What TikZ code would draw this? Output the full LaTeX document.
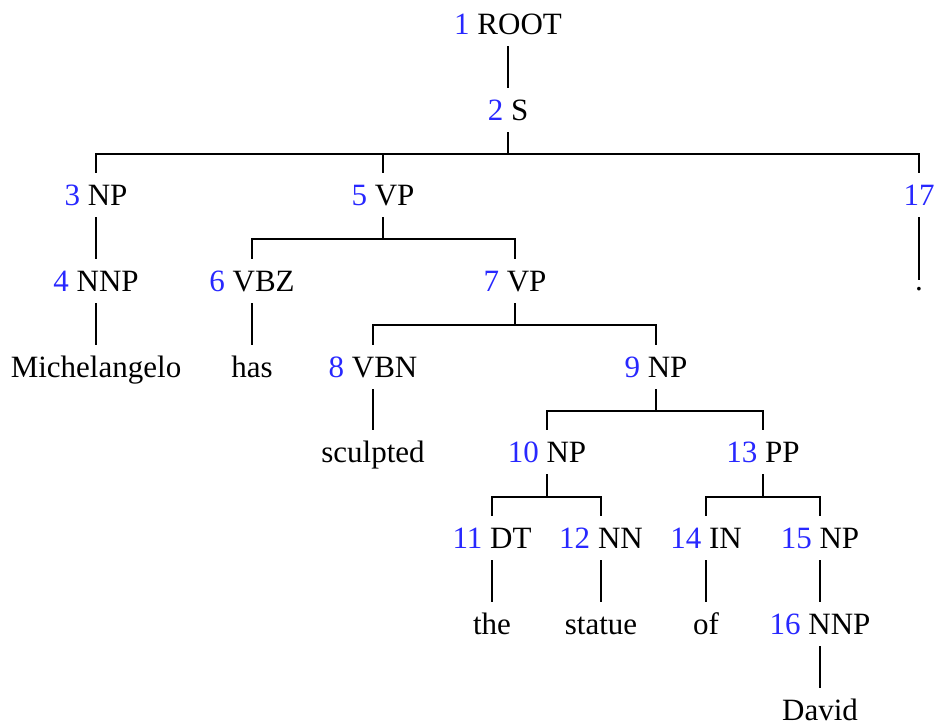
\documentclass[tikz,border=0pt]{standalone}
\usepackage{fontspec}
\setmainfont{Liberation Serif}
\usepackage{xcolor}
\usetikzlibrary{calc}
\usetikzlibrary{positioning}

\definecolor{idblue}{RGB}{40,40,255}
\newcommand{\nid}[1]{\textcolor{idblue}{#1}}
\tikzset{
  tag/.style={inner xsep=0pt, inner ysep=3.5pt, text height=12.5pt, text depth=2.5pt,
    font=\fontsize{15.5}{18}\selectfont},
  punct/.style={tag, text height=1.5pt},
  branch/.style={line width=0.8pt},
}

\begin{document}
\begin{tikzpicture}[x=0.5pt,y=-0.5pt]
       \useasboundingbox (0,0) rectangle (935,724);
       
       \node[tag] (n1) at (508,24) {\nid{1} ROOT};
       \node[tag] (n2) at (508,110) {\nid{2} S};
       
       \node[tag] (n3) at (96,195) {\nid{3} NP};
       \node[tag] (n4) at (96,281) {\nid{4} NNP};
       \node[tag] (w4) at (96,367) {Michelangelo};
       
       \node[tag] (n5) at (383,195) {\nid{5} VP};
       \node[tag] (n6) at (252,281) {\nid{6} VBZ};
       \node[tag] (w6) at (252,367) {has};
       \node[tag] (n7) at (515,281) {\nid{7} VP};
       \node[tag] (n8) at (373,367) {\nid{8} VBN};
       \node[tag] (w8) at (373,452) {sculpted};
       \node[tag] (n9) at (656,367) {\nid{9} NP};
       
       \node[tag] (n10) at (547,452) {\nid{10} NP};
       \node[tag] (n11) at (492,538) {\nid{11} DT};
       \node[tag] (w11) at (492,624) {the};
       \node[tag] (n12) at (601,538) {\nid{12} NN};
       \node[tag] (w12) at (601,624) {statue};
       
       \node[tag] (n13) at (763,452) {\nid{13} PP};
       \node[tag] (n14) at (706,538) {\nid{14} IN};
       \node[tag] (w14) at (706,624) {of};
       \node[tag] (n15) at (820,538) {\nid{15} NP};
       \node[tag] (n16) at (820,624) {\nid{16} NNP};
       \node[tag] (w16) at (820,710) {David};
       
       \node[tag] (n17) at (919,195) {\nid{17}};
       \node[punct, anchor=base] (w17) at (919,290) {.};
       
       \coordinate (b2) at (508,154);
       \coordinate (b5) at (383,239);
       \coordinate (b7) at (515,325);
       \coordinate (b9) at (656,411);
       \coordinate (b10) at (547,497);
       \coordinate (b13) at (763,497);
       
       \draw[branch] (n1.south) -- (n2.north);
       
       \draw[branch] (n2.south) -- (b2);
       \draw[branch] (n3.north) |- (b2);
       \draw[branch] (n5.north) |- (b2);
       \draw[branch] (n17.north) |- (b2);
       
       \draw[branch] (n3.south) -- (n4.north);
       \draw[branch] (n4.south) -- (w4.north);
       
       \draw[branch] (n5.south) -- (b5);
       \draw[branch] (n6.north) |- (b5);
       \draw[branch] (n7.north) |- (b5);
       \draw[branch] (n6.south) -- (w6.north);
       
       \draw[branch] (n7.south) -- (b7);
       \draw[branch] (n8.north) |- (b7);
       \draw[branch] (n9.north) |- (b7);
       \draw[branch] (n8.south) -- (w8.north);
       
       \draw[branch] (n9.south) -- (b9);
       \draw[branch] (n10.north) |- (b9);
       \draw[branch] (n13.north) |- (b9);
       
       \draw[branch] (n10.south) -- (b10);
       \draw[branch] (n11.north) |- (b10);
       \draw[branch] (n12.north) |- (b10);
       \draw[branch] (n11.south) -- (w11.north);
       \draw[branch] (n12.south) -- (w12.north);
       
       \draw[branch] (n13.south) -- (b13);
       \draw[branch] (n14.north) |- (b13);
       \draw[branch] (n15.north) |- (b13);
       \draw[branch] (n14.south) -- (w14.north);
       \draw[branch] (n15.south) -- (n16.north);
       \draw[branch] (n16.south) -- (w16.north);
       
       \draw[branch] (n17.south) -- (w17.north);
\end{tikzpicture}
\end{document}
